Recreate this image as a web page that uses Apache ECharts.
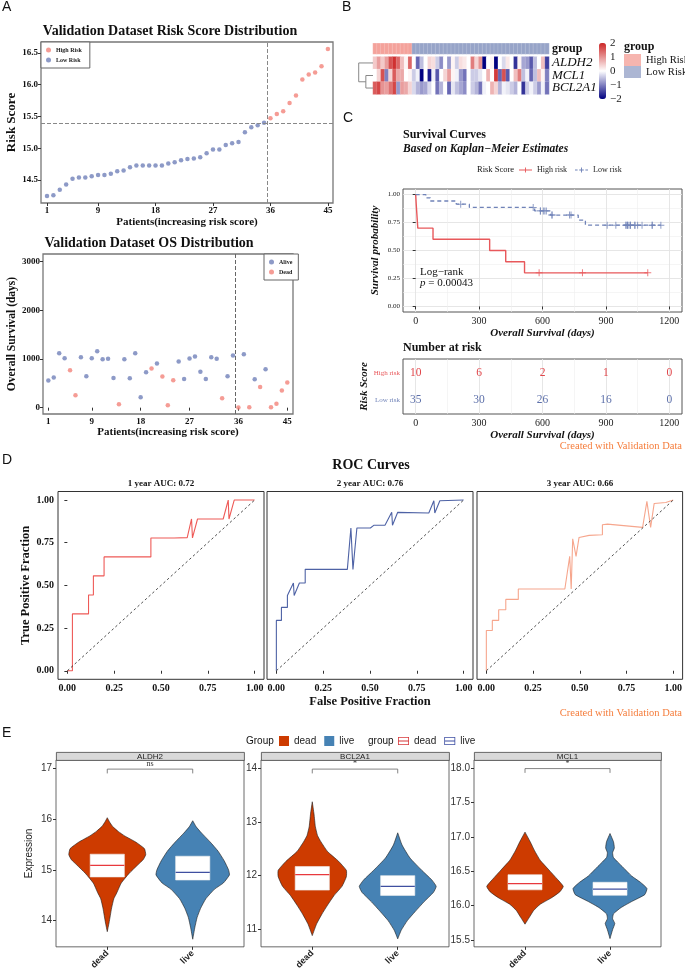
<!DOCTYPE html>
<html><head><meta charset="utf-8">
<script src="https://cdn.jsdelivr.net/npm/echarts@6/dist/echarts.min.js"></script>
<style>html,body{margin:0;padding:0;background:#fff}#c{width:685px;height:972px}</style>
</head><body><div id="c"></div><script>
const SERIF = 'Liberation Serif', SANS = 'Liberation Sans';
// ---------------- Panel A data ----------------
const patientTicks = [1, 9, 18, 27, 36, 45];
const riskScore = [14.25,14.26,14.35,14.43,14.52,14.54,14.54,14.56,14.58,14.58,
  14.60,14.64,14.65,14.70,14.73,14.73,14.73,14.73,14.73,14.76,
  14.78,14.81,14.83,14.84,14.86,14.92,14.98,14.98,15.05,15.08,
  15.10,15.25,15.33,15.36,15.40,15.47,15.54,15.58,15.71,15.83,
  16.08,16.16,16.19,16.29,16.56];
const riskCutoff = 15.40;
const highRiskFrom = 36;
const osDays = [556,618,1119,1016,769,254,1037,645,1016,1160,
  995,1002,611,69,995,604,1119,213,728,803,
  906,638,48,563,947,590,1009,1050,735,590,
  1037,1002,192,645,1071,3,1098,10,584,426,
  789,10,82,350,515];
const osDead = [0,0,0,0,1,1,0,0,0,0, 0,0,0,1,0,0,0,0,0,1, 0,1,1,1,0,0,0,0,0,0, 0,0,1,0,0,1,0,1,0,1, 0,1,1,1,1];
const riskYTicks = [14.5, 15.0, 15.5, 16.0, 16.5];
const osYTicks = [0, 1000, 2000, 3000];
// ---------------- Panel B data ----------------
const genes = ['ALDH2', 'MCL1', 'BCL2A1'];
const exprALDH2 = [0.5,0.9,0.5,0.9,1.6,1.9,1.4,0.6,0.1,1.4, 0.0,-1.2,-0.5,0.0,0.4,0.3,-0.4,-0.9,0.0,-0.8, 0.1,-0.4,0.3,0.2,0.0,1.2,0.4,1.0,-2.0,0.0, 0.1,-2.0,0.0,-0.3,0.2,0.0,-1.6,0.1,-0.7,-0.8, -1.3,-0.5,0.0,0.6,-1.5];
const exprMCL1 = [0.0,0.4,1.6,-1.0,0.4,1.5,0.8,0.8,0.0,0.1, -0.4,-0.1,-2.0,0.0,-1.8,-0.1,-1.3,0.0,0.4,0.9, 0.1,-0.1,-0.8,-1.1,0.0,-0.4,-0.4,-0.2,0.0,0.7, 0.0,1.8,-1.2,1.6,-1.3,0.0,0.6,1.2,-0.5,-0.1, -1.2,-0.5,0.6,0.1,-1.0];
const exprBCL2A1 = [1.5,1.7,1.0,0.9,1.3,1.7,-0.8,0.9,0.8,0.4, -0.3,-0.6,-0.8,-0.7,-0.3,0.0,-1.1,-0.6,0.0,-1.2, -0.2,-0.5,-0.7,-0.9,0.0,-0.4,-0.6,-1.1,-0.1,0.0, 0.7,0.4,-0.6,-0.1,-0.2,-0.4,-0.6,0.0,-1.6,-0.4, -0.1,-0.4,-0.8,-0.1,-1.1];
const heatHighCount = 10;
const dendroMergeLow = 1.0;   // MCL1 + BCL2A1
const dendroMergeRoot = 2.0;  // ALDH2 + cluster
// ---------------- Panel C data ----------------
const kmTicks = [0, 300, 600, 900, 1200];
const kmMinor = [150, 450, 750, 1050];
const survTicks = [0, 0.25, 0.5, 0.75, 1];
const survMinor = [0.125, 0.375, 0.625, 0.875];
const atRiskHigh = [10, 6, 2, 1, 0];
const atRiskLow = [35, 30, 26, 16, 0];
// ---------------- Panel D data ----------------
const fracTicks = [0, 0.25, 0.5, 0.75, 1];
const roc1yr = [[0,0],[0.027,0],[0.027,0.333],[0.113,0.333],[0.113,0.444],[0.139,0.444],[0.139,0.556],[0.196,0.556],[0.196,0.667],[0.446,0.667],[0.446,0.778],[0.57,0.778],[0.64,0.78],[0.663,0.889],[0.668,0.778],[0.695,0.889],[0.832,0.889],[0.859,1.0],[0.863,0.889],[0.891,1.0],[1,1]];
const roc2yr = [[0,0],[0,0.295],[0.027,0.295],[0.027,0.371],[0.059,0.371],[0.059,0.441],[0.091,0.514],[0.095,0.441],[0.123,0.514],[0.154,0.514],[0.154,0.594],[0.379,0.594],[0.398,0.836],[0.409,0.594],[0.43,0.836],[0.502,0.836],[0.52,0.852],[0.58,0.852],[0.616,0.928],[0.62,0.852],[0.648,0.928],[0.814,0.924],[0.841,0.996],[0.846,0.924],[0.873,0.996],[1,1]];
const roc3yr = [[0,0],[0,0.236],[0.032,0.236],[0.032,0.295],[0.066,0.295],[0.066,0.357],[0.104,0.357],[0.104,0.418],[0.171,0.418],[0.171,0.479],[0.42,0.479],[0.446,0.67],[0.454,0.479],[0.462,0.773],[0.48,0.67],[0.496,0.781],[0.55,0.793],[0.621,0.797],[0.621,0.855],[0.648,0.859],[0.836,0.84],[0.859,0.992],[0.879,0.84],[0.898,0.98],[0.96,0.986],[1,1]];
const rocTitles = ['1 year AUC: 0.72', '2 year AUC: 0.76', '3 year AUC: 0.66'];
// ---------------- Panel E data ----------------
const groupNames = ['dead', 'live'];
const aldh2DeadY = [16.03,15.95,15.86,15.76,15.67,15.55,15.42,15.3,15.2,15.1,14.93,14.74,14.55,14.43,14.25,14.1,13.95,13.78];
const aldh2DeadW = [0,5,12,25,40,65,85,88,82,70,50,32,22,15,10,7,4,0];
const aldh2LiveY = [15.97,15.85,15.73,15.55,15.37,15.18,15.0,14.9,14.74,14.62,14.43,14.24,14.06,13.87,13.63];
const aldh2LiveW = [0,8,20,40,58,72,82,84,70,50,30,18,10,5,0];
const bcl2a1DeadY = [13.38,13.15,12.92,12.75,12.63,12.45,12.27,12.1,11.98,11.8,11.63,11.45,11.28,11.1,10.88];
const bcl2a1DeadW = [0,4,7,12,20,35,60,78,78,68,50,35,22,10,0];
const bcl2a1LiveY = [12.8,12.57,12.33,12.1,11.92,11.8,11.69,11.51,11.33,11.16,10.98,10.82];
const bcl2a1LiveW = [0,10,28,55,78,88,82,60,40,22,8,0];
const mcl1DeadY = [17.07,16.93,16.8,16.66,16.52,16.38,16.28,16.2,16.11,16.02,15.93,15.83,15.73];
const mcl1DeadW = [0,12,22,35,55,75,88,80,60,35,20,10,0];
const mcl1LiveY = [17.05,16.93,16.84,16.77,16.7,16.57,16.43,16.34,16.25,16.16,16.06,15.97,15.88,15.81,15.74,15.65,15.52];
const mcl1LiveW = [0,8,10,6,8,28,50,70,85,80,50,25,8,6,11,6,0];
const boxALDH2 = [[14.86,15.09,15.31],[14.80,14.95,15.27]];   // q1, median, q3
const boxBCL2A1 = [[11.73,12.02,12.17],[11.63,11.80,12.00]];
const boxMCL1 = [[16.23,16.32,16.45],[16.15,16.24,16.34]];
const sigLabels = ['ns', '*', '*'];
const sigY = [16.99, 13.99, 17.995];
const eYTicks = [[14,15,16,17],[11,12,13,14],[15.5,16,16.5,17,17.5,18]];
const eYRange = [[13.48,17.17],[10.67,14.16],[15.40,18.12]];
const eGenes = ['ALDH2', 'BCL2A1', 'MCL1'];

// ---------------- colours ----------------
const cHigh = '#F2837B', cLow = '#7081B9';
const cGrpHigh = '#F4A29B', cGrpLow = '#97A4C8';
const kmRed = '#E8585B', kmBlue = '#7083B8';
const rocCols = ['#EE5A57', '#4E62A5', '#F6A68D'];
const cDead = '#CD3B00', cLive = '#4682B4', medDead = '#E8383D', medLive = '#3F4FA0';
const orange = '#F57C3A';

// ---------------- helpers ----------------
function T(text, left, top, st, extra) {
  return Object.assign({ text, left, top, padding: 0,
    textStyle: Object.assign({ fontFamily: SERIF, color: '#111', fontWeight: 'normal', fontSize: 12 }, st) }, extra || {});
}
function kaplanMeier(times, dead) {
  const order = times.map((_, i) => i).sort((a, b) => times[a] - times[b]);
  let n = times.length, s = 1, i = 0;
  const line = [[0, 1]], cens = [];
  while (i < order.length) {
    const t = times[order[i]]; let d = 0, c = 0;
    while (i < order.length && times[order[i]] === t) { if (dead[order[i]]) d++; else c++; i++; }
    if (d > 0) { line.push([t, s]); s = s * (n - d) / n; line.push([t, s]); }
    for (let k = 0; k < c; k++) cens.push([t, s]);
    n -= d + c;
  }
  line.push([times[order[order.length - 1]], s]);
  return { line, cens };
}
const hiIdx = [], loIdx = [];
riskScore.forEach((_, i) => (i + 1 >= highRiskFrom ? hiIdx : loIdx).push(i));
const kmHigh = kaplanMeier(hiIdx.map(i => osDays[i]), hiIdx.map(i => osDead[i]));
const kmLow = kaplanMeier(loIdx.map(i => osDays[i]), loIdx.map(i => osDead[i]));

function violinItem(yArr, wArr, box, fill, medColor) {
  return function (params, api) {
    const cx = api.value(0);
    const right = [], left = [];
    for (let i = 0; i < yArr.length; i++) {
      const hw = wArr[i] / 88 * 0.45;
      right.push(api.coord([cx + hw, yArr[i]]));
      left.push(api.coord([cx - hw, yArr[i]]));
    }
    const pts = right.concat(left.reverse());
    const b1 = api.coord([cx - 0.2, box[2]]), b2 = api.coord([cx + 0.2, box[0]]);
    const m1 = api.coord([cx - 0.2, box[1]]), m2 = api.coord([cx + 0.2, box[1]]);
    return { type: 'group', children: [
      { type: 'polygon', shape: { points: pts, smooth: 0.15 }, style: { fill, stroke: '#1a1a1a', lineWidth: 0.6 } },
      { type: 'rect', shape: { x: b1[0], y: b1[1], width: b2[0] - b1[0], height: b2[1] - b1[1] }, style: { fill: '#fff', stroke: '#eee', lineWidth: 0.6 } },
      { type: 'line', shape: { x1: m1[0], y1: m1[1], x2: m2[0], y2: m2[1] }, style: { stroke: medColor, lineWidth: 1.3 } }
    ] };
  };
}
function sigItem(label) {
  return function (params, api) {
    const y = api.value(1);
    const p0 = api.coord([1, y]), p1 = api.coord([2, y]);
    return { type: 'group', children: [
      { type: 'polyline', shape: { points: [[p0[0], p0[1] + 4.3], p0, p1, [p1[0], p1[1] + 4.3]] }, style: { stroke: '#666', lineWidth: 0.8, fill: null } },
      { type: 'text', style: { text: label, x: (p0[0] + p1[0]) / 2, y: p0[1] - 1, align: 'center', verticalAlign: 'bottom', fontFamily: SERIF, fontSize: 8, fill: '#333' } }
    ] };
  };
}

const xAxes = [], yAxes = [], grids = [];
function boxGrid(left, top, width, height, bc, bw) {
  grids.push({ left, top, width, height, show: true, borderColor: bc, borderWidth: bw, backgroundColor: '#fff' });
  return grids.length - 1;
}
const labSerifB = (sz) => ({ fontFamily: SERIF, fontWeight: 'bold', fontSize: sz, color: '#111' });
const plain = v => String(v);

// grid 0: A1
boxGrid(41, 42, 292, 161, '#777', 1.3);
xAxes.push({ gridIndex: 0, type: 'value', min: 0.06, max: 45.8, axisLine: { show: false }, splitLine: { show: false },
  axisTick: { customValues: patientTicks, length: 3, lineStyle: { color: '#333' } },
  axisLabel: Object.assign({ customValues: patientTicks, margin: 3, formatter: plain }, labSerifB(9)),
  name: 'Patients(increasing risk score)', nameLocation: 'middle', nameGap: 14, nameTextStyle: labSerifB(11) });
yAxes.push({ gridIndex: 0, type: 'value', min: 14.14, max: 16.67, axisLine: { show: false }, splitLine: { show: false },
  axisTick: { customValues: riskYTicks, length: 3, lineStyle: { color: '#333' } },
  axisLabel: Object.assign({ customValues: riskYTicks, margin: 3, formatter: v => v.toFixed(1) }, labSerifB(9)),
  name: 'Risk Score', nameLocation: 'middle', nameGap: 18, nameTextStyle: labSerifB(13) });
// grid 1: A2
boxGrid(43, 254, 250, 160, '#777', 1.3);
xAxes.push({ gridIndex: 1, type: 'value', min: 0.02, max: 46.05, axisLine: { show: false }, splitLine: { show: false },
  axisTick: { customValues: patientTicks, length: 3, lineStyle: { color: '#333' } },
  axisLabel: Object.assign({ customValues: patientTicks, margin: 3, formatter: plain }, labSerifB(9)),
  name: 'Patients(increasing risk score)', nameLocation: 'middle', nameGap: 13, nameTextStyle: labSerifB(11) });
yAxes.push({ gridIndex: 1, type: 'value', min: -130, max: 3154, axisLine: { show: false }, splitLine: { show: false },
  axisTick: { customValues: osYTicks, length: 3, lineStyle: { color: '#333' } },
  axisLabel: Object.assign({ customValues: osYTicks, margin: 3, formatter: plain }, labSerifB(9)),
  name: 'Overall Survival (days)', nameLocation: 'middle', nameGap: 20, nameTextStyle: labSerifB(11.5) });
// grid 2: group bar
const colNames = riskScore.map((_, i) => String(i + 1));
grids.push({ left: 373, top: 43.3, width: 176, height: 10.7 });
xAxes.push({ gridIndex: 2, type: 'category', data: colNames, show: false });
yAxes.push({ gridIndex: 2, type: 'category', data: ['group'], position: 'right', axisLine: { show: false }, axisTick: { show: false },
  axisLabel: { interval: 0, fontFamily: SERIF, fontWeight: 'bold', fontSize: 12, color: '#111', margin: 3 } });
// grid 3: heatmap
grids.push({ left: 373, top: 56.7, width: 176, height: 37.6 });
xAxes.push({ gridIndex: 3, type: 'category', data: colNames, show: false });
yAxes.push({ gridIndex: 3, type: 'category', data: genes, inverse: true, position: 'right', axisLine: { show: false }, axisTick: { show: false },
  axisLabel: { interval: 0, hideOverlap: false, fontFamily: SERIF, fontStyle: 'italic', fontSize: 13, color: '#111', margin: 3 } });
// grid 4: dendrogram
grids.push({ left: 358, top: 56.7, width: 15, height: 37.6 });
xAxes.push({ gridIndex: 4, type: 'value', min: 0, max: 2.1, inverse: true, show: false });
yAxes.push({ gridIndex: 4, type: 'value', min: -0.5, max: 2.5, inverse: true, show: false });
// grid 5: colorbar axis
grids.push({ left: 599, top: 43, width: 7, height: 56 });
xAxes.push({ gridIndex: 5, type: 'value', show: false });
yAxes.push({ gridIndex: 5, type: 'value', min: -2, max: 2, interval: 1, position: 'right', axisLine: { show: false }, splitLine: { show: false },
  axisTick: { show: false }, axisLabel: { fontFamily: SERIF, fontSize: 11, color: '#222', margin: 4, formatter: v => v < 0 ? '\u2212' + Math.abs(v) : String(v) } });
// grid 6: KM
boxGrid(403, 189, 279, 123, '#555', 1);
const kmXBase = { type: 'value', min: -60, max: 1260, axisLine: { show: false } };
const kmName = { fontFamily: SERIF, fontWeight: 'bold', fontStyle: 'italic', fontSize: 11, color: '#111' };
xAxes.push(Object.assign({ gridIndex: 6 }, kmXBase, {
  axisTick: { customValues: kmTicks, length: 3, lineStyle: { color: '#333' } },
  axisLabel: { customValues: kmTicks, fontFamily: SERIF, fontSize: 10, color: '#222', margin: 4, formatter: plain },
  splitLine: { show: true, lineStyle: { color: '#E3E3E3', width: 0.9 } },
  name: 'Overall Survival (days)', nameLocation: 'middle', nameGap: 16, nameTextStyle: kmName }));
yAxes.push({ gridIndex: 6, type: 'value', min: -0.05, max: 1.05, axisLine: { show: false },
  axisTick: { customValues: survTicks, length: 3, lineStyle: { color: '#333' } },
  axisLabel: { customValues: survTicks, fontFamily: SERIF, fontSize: 7, color: '#222', margin: 3, formatter: v => v.toFixed(2) },
  splitLine: { show: true, lineStyle: { color: '#E3E3E3', width: 0.9 } },
  name: 'Survival probability', nameLocation: 'middle', nameGap: 22, nameTextStyle: kmName });
// grid 7: risk table
boxGrid(403, 359, 279, 55, '#555', 1);
xAxes.push(Object.assign({ gridIndex: 7 }, kmXBase, {
  axisTick: { customValues: kmTicks, length: 3, lineStyle: { color: '#333' } },
  axisLabel: { customValues: kmTicks, fontFamily: SERIF, fontSize: 10, color: '#222', margin: 4, formatter: plain },
  splitLine: { show: true, lineStyle: { color: '#E3E3E3', width: 0.9 } },
  name: 'Overall Survival (days)', nameLocation: 'middle', nameGap: 16, nameTextStyle: kmName }));
yAxes.push({ gridIndex: 7, type: 'category', data: ['Low risk', 'High risk'], axisLine: { show: false },
  axisTick: { length: 3, alignWithLabel: true, lineStyle: { color: '#333' } },
  axisLabel: { interval: 0, fontFamily: SERIF, fontSize: 7, margin: 3, color: v => v === 'High risk' ? kmRed : kmBlue },
  splitLine: { show: false },
  name: 'Risk Score', nameLocation: 'middle', nameGap: 33, nameTextStyle: kmName });
// grids 8-10: ROC
const rocLefts = [58, 267, 477];
rocLefts.forEach((l, k) => {
  const g = boxGrid(l, 491.5, 206, 187.8, '#333', 1);
  xAxes.push({ gridIndex: g, type: 'value', min: -0.05, max: 1.05, axisLine: { show: false }, splitLine: { show: false },
    axisTick: { customValues: fracTicks, length: 3, lineStyle: { color: '#333' } },
    axisLabel: Object.assign({ customValues: fracTicks, margin: 4, formatter: v => v.toFixed(2) }, labSerifB(10)),
    name: k === 1 ? 'False Positive Fraction' : '', nameLocation: 'middle', nameGap: 16, nameTextStyle: labSerifB(12.5) });
  yAxes.push({ gridIndex: g, type: 'value', min: -0.05, max: 1.05, axisLine: { show: false }, splitLine: { show: false },
    axisTick: { show: k === 0, customValues: fracTicks, length: 3, lineStyle: { color: '#333' } },
    axisLabel: Object.assign({ show: k === 0, customValues: fracTicks, margin: 4, formatter: v => v.toFixed(2) }, labSerifB(10)),
    name: k === 0 ? 'True Positive Fraction' : '', nameLocation: 'middle', nameGap: 21, nameTextStyle: labSerifB(12.5) });
});
// grids 11-13: violins
const eLefts = [56, 261, 474], eWidths = [188, 188, 187];
eLefts.forEach((l, k) => {
  const g = boxGrid(l, 760, eWidths[k], 198, '#444', 0.8);
  xAxes.push({ gridIndex: g, type: 'value', min: 0.4, max: 2.6, axisLine: { show: false }, splitLine: { show: false },
    axisTick: { customValues: [1, 2], length: 3, lineStyle: { color: '#333' } },
    axisLabel: { customValues: [1, 2], rotate: 45, margin: 5, fontFamily: SANS, fontWeight: 'bold', fontSize: 9, color: '#222', formatter: v => groupNames[v - 1] } });
  yAxes.push({ gridIndex: g, type: 'value', min: eYRange[k][0], max: eYRange[k][1], axisLine: { show: false }, splitLine: { show: false },
    axisTick: { customValues: eYTicks[k], length: 3, lineStyle: { color: '#333' } },
    axisLabel: { customValues: eYTicks[k], margin: 4, fontFamily: SANS, fontSize: 10, color: '#333', formatter: v => k === 2 ? v.toFixed(1) : String(v) },
    name: k === 0 ? 'Expression' : '', nameLocation: 'middle', nameGap: 22, nameTextStyle: { fontFamily: SANS, fontSize: 10, color: '#222' } });
});
// minor grid axes
xAxes.push(Object.assign({ gridIndex: 6, position: 'top' }, kmXBase, { axisTick: { show: false, customValues: kmMinor }, axisLabel: { show: false },
  splitLine: { show: true, lineStyle: { color: '#EFEFEF', width: 0.6 } } }));
yAxes.push({ gridIndex: 6, position: 'right', type: 'value', min: -0.05, max: 1.05, axisLine: { show: false }, axisTick: { show: false, customValues: survMinor },
  axisLabel: { show: false }, splitLine: { show: true, lineStyle: { color: '#EFEFEF', width: 0.6 } } });
xAxes.push(Object.assign({ gridIndex: 7, position: 'top' }, kmXBase, { axisTick: { show: false, customValues: kmMinor }, axisLabel: { show: false },
  splitLine: { show: true, lineStyle: { color: '#EFEFEF', width: 0.6 } } }));

// ---------------- series ----------------
const series = [];
const ptsA1High = [], ptsA1Low = [], ptsAlive = [], ptsDead = [];
riskScore.forEach((v, i) => {
  (i + 1 >= highRiskFrom ? ptsA1High : ptsA1Low).push([i + 1, v]);
  (osDead[i] ? ptsDead : ptsAlive).push([i + 1, osDays[i]]);
});
const dashGray = { type: 'dashed', color: '#888', width: 1 };
series.push({ name: 'High Risk', type: 'scatter', xAxisIndex: 0, yAxisIndex: 0, data: ptsA1High, symbolSize: 4.5, itemStyle: { color: cHigh } });
series.push({ name: 'Low Risk', type: 'scatter', xAxisIndex: 0, yAxisIndex: 0, data: ptsA1Low, symbolSize: 4.5, itemStyle: { color: cLow },
  markLine: { silent: true, symbol: 'none', label: { show: false }, lineStyle: dashGray, data: [{ yAxis: riskCutoff }, { xAxis: highRiskFrom - 0.5 }] } });
series.push({ name: 'Alive', type: 'scatter', xAxisIndex: 1, yAxisIndex: 1, data: ptsAlive, symbolSize: 4.5, itemStyle: { color: cLow },
  markLine: { silent: true, symbol: 'none', label: { show: false }, lineStyle: { type: 'dashed', color: '#666', width: 1 }, data: [{ xAxis: highRiskFrom - 0.5 }] } });
series.push({ name: 'Dead', type: 'scatter', xAxisIndex: 1, yAxisIndex: 1, data: ptsDead, symbolSize: 4.5, itemStyle: { color: cHigh } });
const heatData = [];
[exprALDH2, exprMCL1, exprBCL2A1].forEach((arr, g) => arr.forEach((v, c) => heatData.push([c, g, v])));
series.push({ type: 'heatmap', xAxisIndex: 3, yAxisIndex: 3, data: heatData, itemStyle: { borderColor: 'rgba(255,255,255,0.35)', borderWidth: 0.4 } });
series.push({ type: 'heatmap', xAxisIndex: 2, yAxisIndex: 2, data: colNames.map((_, c) => [c, 0, c < heatHighCount ? 1 : 0]), itemStyle: { borderColor: 'rgba(255,255,255,0.45)', borderWidth: 0.4 } });
const midLow = (1 + 2) / 2;
series.push({ type: 'lines', coordinateSystem: 'cartesian2d', xAxisIndex: 4, yAxisIndex: 4, polyline: true, silent: true,
  lineStyle: { color: '#888', width: 1, opacity: 1 },
  data: [{ coords: [[0, 1], [dendroMergeLow, 1], [dendroMergeLow, 2], [0, 2]] },
         { coords: [[0, 0], [dendroMergeRoot, 0], [dendroMergeRoot, midLow], [dendroMergeLow, midLow]] }] });
series.push({ type: 'scatter', xAxisIndex: 5, yAxisIndex: 5, data: [] });
series.push({ name: 'High risk', type: 'line', xAxisIndex: 6, yAxisIndex: 6, data: kmHigh.line, symbol: 'none', lineStyle: { color: kmRed, width: 1.4 }, itemStyle: { color: kmRed } });
series.push({ name: 'Low risk', type: 'line', xAxisIndex: 6, yAxisIndex: 6, data: kmLow.line, symbol: 'none', lineStyle: { color: kmBlue, width: 1.3, type: [4, 3] }, itemStyle: { color: kmBlue } });
const plusSym = 'path://M4.3,0H5.7V4.3H10V5.7H5.7V10H4.3V5.7H0V4.3H4.3Z';
series.push({ name: 'censorHigh', type: 'scatter', xAxisIndex: 6, yAxisIndex: 6, data: kmHigh.cens, symbol: plusSym, symbolSize: 7, itemStyle: { color: kmRed } });
series.push({ name: 'censorLow', type: 'scatter', xAxisIndex: 6, yAxisIndex: 6, data: kmLow.cens, symbol: plusSym, symbolSize: 7, itemStyle: { color: kmBlue } });
const tableLabel = (col) => ({ show: true, position: 'inside', formatter: p => String(p.value[2]), fontFamily: SERIF, fontSize: 11.5, color: col, opacity: 1 });
series.push({ type: 'scatter', xAxisIndex: 7, yAxisIndex: 7, symbolSize: 2, itemStyle: { color: 'rgba(0,0,0,0)' }, data: kmTicks.map((t, i) => [t, 'High risk', atRiskHigh[i]]), label: tableLabel('#E0464A') });
series.push({ type: 'scatter', xAxisIndex: 7, yAxisIndex: 7, symbolSize: 2, itemStyle: { color: 'rgba(0,0,0,0)' }, data: kmTicks.map((t, i) => [t, 'Low risk', atRiskLow[i]]), label: tableLabel('#5D70AA') });
[roc1yr, roc2yr, roc3yr].forEach((d, k) => {
  series.push({ type: 'line', xAxisIndex: 8 + k, yAxisIndex: 8 + k, data: d, symbol: 'none', lineStyle: { color: rocCols[k], width: 1.1 } });
});
[0, 1, 2].forEach(k => {
  series.push({ type: 'line', xAxisIndex: 8 + k, yAxisIndex: 8 + k, data: [[0, 0], [1, 1]], symbol: 'none', lineStyle: { color: '#222', width: 0.8, type: [2.5, 2.5] } });
});
const vProfiles = [
  [[aldh2DeadY, aldh2DeadW], [aldh2LiveY, aldh2LiveW], boxALDH2],
  [[bcl2a1DeadY, bcl2a1DeadW], [bcl2a1LiveY, bcl2a1LiveW], boxBCL2A1],
  [[mcl1DeadY, mcl1DeadW], [mcl1LiveY, mcl1LiveW], boxMCL1]
];
vProfiles.forEach((p, k) => {
  series.push({ name: 'dead', type: 'custom', xAxisIndex: 11 + k, yAxisIndex: 11 + k, data: [[1, p[2][0][1]]], itemStyle: { color: cDead },
    renderItem: violinItem(p[0][0], p[0][1], p[2][0], cDead, medDead) });
  series.push({ name: 'live', type: 'custom', xAxisIndex: 11 + k, yAxisIndex: 11 + k, data: [[2, p[2][1][1]]], itemStyle: { color: cLive },
    renderItem: violinItem(p[1][0], p[1][1], p[2][1], cLive, medLive) });
});
sigLabels.forEach((s, k) => {
  series.push({ type: 'custom', xAxisIndex: 11 + k, yAxisIndex: 11 + k, data: [[1.5, sigY[k]]], renderItem: sigItem(s), silent: true });
});
series.push({ name: 'dead ', type: 'custom', xAxisIndex: 11, yAxisIndex: 11, data: [], itemStyle: { color: '#D7383B' }, renderItem: () => null });
series.push({ name: 'live ', type: 'custom', xAxisIndex: 11, yAxisIndex: 11, data: [], itemStyle: { color: '#3E4FA3' }, renderItem: () => null });

// ---------------- titles ----------------
const titles = [
  T('A', 2, 0, { fontFamily: SANS, fontSize: 14 }),
  T('B', 342, 0, { fontFamily: SANS, fontSize: 14 }),
  T('C', 343, 111, { fontFamily: SANS, fontSize: 14 }),
  T('D', 2, 453, { fontFamily: SANS, fontSize: 14 }),
  T('E', 2, 726, { fontFamily: SANS, fontSize: 14 }),
  T('Validation Dataset Risk Score Distribution', 170, 24.5, { fontWeight: 'bold', fontSize: 14 }, { textAlign: 'center' }),
  T('Validation Dataset OS Distribution', 149, 236.5, { fontWeight: 'bold', fontSize: 14 }, { textAlign: 'center' }),
  T('group', 624, 41, { fontWeight: 'bold', fontSize: 12 }),
  T('Survival Curves', 403, 129, { fontWeight: 'bold', fontSize: 12 }),
  T('Based on Kaplan\u2212Meier Estimates', 403, 143, { fontWeight: 'bold', fontStyle: 'italic', fontSize: 11.5 }),
  T('Risk Score', 477, 165.5, { fontSize: 8.5 }),
  T('Log\u2212rank\n{i|p} = 0.00043', 420, 267, { fontSize: 11, lineHeight: 11, rich: { i: { fontFamily: SERIF, fontStyle: 'italic', fontSize: 11 } } }),
  T('Number at risk', 403, 342, { fontWeight: 'bold', fontSize: 12 }),
  T('Created with Validation Data', 0, 440.5, { fontSize: 10.5, color: orange }, { left: null, right: 3 }),
  T('ROC Curves', 371, 458, { fontWeight: 'bold', fontSize: 14 }, { textAlign: 'center' }),
  T('Created with Validation Data', 0, 707.5, { fontSize: 10.5, color: orange }, { left: null, right: 3 }),
  T('Group', 246, 736, { fontFamily: SANS, fontSize: 10 }),
  T('group', 368, 736, { fontFamily: SANS, fontSize: 10 })
];
rocTitles.forEach((t, k) => titles.push(T(t, rocLefts[k] + 103, 479.5, { fontWeight: 'bold', fontSize: 9 }, { textAlign: 'center' })));
eGenes.forEach((g, k) => titles.push(T(g, eLefts[k] + eWidths[k] / 2, 752.5, { fontFamily: SANS, fontSize: 8, color: '#222' }, { textAlign: 'center' })));

const stripRects = eLefts.map((l, k) => ({ type: 'rect', left: l, top: 752, shape: { width: eWidths[k], height: 8 }, style: { fill: '#D9D9D9', stroke: '#444', lineWidth: 0.8 }, z: 1 }));

const boxIcon = 'path://M0,0H14V10H0Z M1,1V4.5H13V1Z M1,5.5V9H13V5.5Z';
const legendBase = { padding: 0, selectedMode: false };
const option = {
  animation: false,
  backgroundColor: '#fff',
  title: titles,
  graphic: stripRects,
  grid: grids,
  xAxis: xAxes,
  yAxis: yAxes,
  visualMap: [
    { type: 'continuous', seriesIndex: 4, dimension: 2, min: -2, max: 2, show: true, calculable: false, left: 599, top: 43,
      itemWidth: 7, itemHeight: 56, padding: 0, text: null, inRange: { color: ['#000080', '#FFFFFF', '#CD2626'] } },
    { type: 'piecewise', seriesIndex: 5, dimension: 2, show: false, pieces: [{ value: 1, color: cGrpHigh }, { value: 0, color: cGrpLow }] }
  ],
  legend: [
    Object.assign({}, legendBase, { data: ['High Risk', 'Low Risk'], left: 41, top: 42, orient: 'vertical', icon: 'circle', itemWidth: 5, itemHeight: 5, itemGap: 4,
      padding: [5, 8, 5, 5], borderColor: '#666', borderWidth: 1, backgroundColor: '#fff', textStyle: { fontFamily: SERIF, fontWeight: 'bold', fontSize: 6, color: '#222' } }),
    Object.assign({}, legendBase, { data: ['Alive', 'Dead'], left: 264, top: 254, orient: 'vertical', icon: 'circle', itemWidth: 5, itemHeight: 5, itemGap: 4,
      padding: [5, 6, 5, 5], borderColor: '#666', borderWidth: 1, backgroundColor: '#fff', textStyle: { fontFamily: SERIF, fontWeight: 'bold', fontSize: 6, color: '#222' } }),
    Object.assign({}, legendBase, { data: [{ name: 'High Risk', itemStyle: { color: cGrpHigh } }, { name: 'Low Risk', itemStyle: { color: cGrpLow } }],
      left: 624, top: 54, orient: 'vertical', icon: 'rect', itemWidth: 17, itemHeight: 12, itemGap: 0, textStyle: { fontFamily: SERIF, fontSize: 10.5, color: '#111' } }),
    Object.assign({}, legendBase, { data: [
        { name: 'High risk', icon: 'path://M0,4.4H20V5.6H0Z M9.3,1H10.7V9H9.3Z' },
        { name: 'Low risk', icon: 'path://M0,4.4H4V5.6H0Z M6.5,4.4H13.5V5.6H6.5Z M16,4.4H20V5.6H16Z M9.3,1H10.7V9H9.3Z' }],
      left: 519, top: 166, itemWidth: 13, itemHeight: 7, itemGap: 8, textStyle: { fontFamily: SERIF, fontSize: 8, color: '#222' } }),
    Object.assign({}, legendBase, { data: ['dead', 'live'], left: 279, top: 736, icon: 'rect', itemWidth: 10, itemHeight: 10, itemGap: 8,
      textStyle: { fontFamily: SANS, fontSize: 10, color: '#222' } }),
    Object.assign({}, legendBase, { data: [{ name: 'dead ', icon: boxIcon }, { name: 'live ', icon: boxIcon }], left: 398, top: 736, itemWidth: 11, itemHeight: 9, itemGap: 8,
      formatter: n => n.trim(), textStyle: { fontFamily: SANS, fontSize: 10, color: '#222' } })
  ],
  series
};
const chart = echarts.init(document.getElementById('c'), null, { renderer: 'canvas' });
chart.setOption(option);
</script></body></html>
